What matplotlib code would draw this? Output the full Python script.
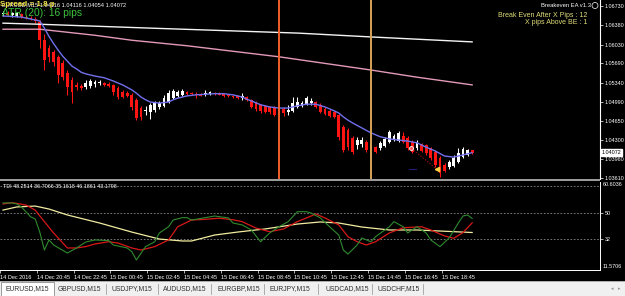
import numpy as np
import matplotlib
matplotlib.use('Agg')
import matplotlib.pyplot as plt
from matplotlib.patches import Rectangle, Ellipse

plt.rcParams['font.family'] = ['Liberation Sans', 'DejaVu Sans']

# EURUSD M15 candles, 14 Dec 18:45 .. 15 Dec 20:15
opens = [1.0659, 1.0660, 1.0657, 1.0655, 1.0659, 1.0653, 1.0651, 1.0650, 1.0644, 1.0611,
         1.0597, 1.0590, 1.0581, 1.0570, 1.0552, 1.0539, 1.0530, 1.0528, 1.0526, 1.0528,
         1.0532, 1.0533, 1.0533, 1.0532, 1.0530, 1.0524, 1.0517, 1.0515, 1.0512, 1.0503,
         1.0488, 1.0483, 1.0481, 1.0484, 1.0490, 1.0492, 1.0499, 1.0506, 1.0510, 1.0512,
         1.0517, 1.0515, 1.0514, 1.0514, 1.0514, 1.0514, 1.0515, 1.0515, 1.0514, 1.0512,
         1.0510, 1.0510, 1.0506, 1.0508, 1.0503, 1.0497, 1.0494, 1.0492, 1.0490, 1.0490,
         1.0483, 1.0486, 1.0481, 1.0483, 1.0490, 1.0492, 1.0495, 1.0497, 1.0499, 1.0494,
         1.0486, 1.0483, 1.0481, 1.0475, 1.0454, 1.0448, 1.0434, 1.0421, 1.0423, 1.0426,
         1.0421, 1.0417, 1.0416, 1.0419, 1.0426, 1.0430, 1.0428, 1.0437, 1.0434, 1.0426,
         1.0416, 1.0423, 1.0421, 1.0416, 1.0408, 1.0397, 1.0385, 1.0381, 1.0383, 1.0390,
         1.0399, 1.0403, 1.04116]
highs = [1.0664, 1.0664, 1.0662, 1.0662, 1.0660, 1.0657, 1.0655, 1.0653, 1.0648, 1.0622,
         1.0602, 1.0593, 1.0584, 1.0575, 1.0557, 1.0544, 1.0535, 1.0532, 1.0539, 1.0541,
         1.0539, 1.0539, 1.0535, 1.0535, 1.0532, 1.0528, 1.0521, 1.0519, 1.0515, 1.0506,
         1.0492, 1.0492, 1.0497, 1.0501, 1.0501, 1.0512, 1.0521, 1.0523, 1.0521, 1.0523,
         1.0519, 1.0517, 1.0517, 1.0515, 1.0521, 1.0519, 1.0517, 1.0517, 1.0515, 1.0514,
         1.0512, 1.0512, 1.0515, 1.0510, 1.0504, 1.0501, 1.0495, 1.0494, 1.0492, 1.0492,
         1.0492, 1.0490, 1.0494, 1.0508, 1.0508, 1.0501, 1.0510, 1.0506, 1.0501, 1.0497,
         1.0490, 1.0486, 1.0483, 1.0477, 1.0457, 1.0452, 1.0437, 1.0436, 1.0436, 1.0430,
         1.0425, 1.0419, 1.0428, 1.0436, 1.0448, 1.0441, 1.0446, 1.0445, 1.0437, 1.0430,
         1.0430, 1.0425, 1.0423, 1.0417, 1.0412, 1.0401, 1.0388, 1.0394, 1.0403, 1.0416,
         1.0417, 1.0414, 1.04116]
lows = [1.0655, 1.0655, 1.0653, 1.0653, 1.0651, 1.0650, 1.0648, 1.0642, 1.0597, 1.0557,
        1.0572, 1.0564, 1.0533, 1.0539, 1.0512, 1.0497, 1.0521, 1.0521, 1.0523, 1.0524,
        1.0526, 1.0530, 1.0528, 1.0526, 1.0512, 1.0504, 1.0506, 1.0508, 1.0484, 1.0466,
        1.0466, 1.0475, 1.0468, 1.0481, 1.0486, 1.0490, 1.0497, 1.0504, 1.0508, 1.0510,
        1.0512, 1.0512, 1.0506, 1.0510, 1.0510, 1.0512, 1.0512, 1.0512, 1.0508, 1.0508,
        1.0506, 1.0504, 1.0503, 1.0501, 1.0488, 1.0483, 1.0479, 1.0479, 1.0477, 1.0474,
        1.0477, 1.0474, 1.0475, 1.0481, 1.0488, 1.0490, 1.0494, 1.0494, 1.0488, 1.0479,
        1.0475, 1.0472, 1.0470, 1.0430, 1.0408, 1.0412, 1.0405, 1.0414, 1.0417, 1.0408,
        1.0399, 1.0407, 1.0412, 1.0417, 1.0425, 1.0428, 1.0426, 1.0425, 1.0412, 1.0407,
        1.0412, 1.0408, 1.0403, 1.0394, 1.0381, 1.0363, 1.0372, 1.0377, 1.0381, 1.0388,
        1.0397, 1.0401, 1.04054]
closes = [1.0660, 1.0657, 1.0660, 1.0660, 1.0653, 1.0651, 1.0650, 1.0646, 1.0611, 1.0575,
          1.0581, 1.0572, 1.0548, 1.0544, 1.0526, 1.0517, 1.0526, 1.0524, 1.0533, 1.0537,
          1.0535, 1.0535, 1.0530, 1.0528, 1.0517, 1.0508, 1.0508, 1.0510, 1.0490, 1.0470,
          1.0472, 1.0484, 1.0494, 1.0497, 1.0497, 1.0506, 1.0515, 1.0519, 1.0517, 1.0519,
          1.0514, 1.0514, 1.0512, 1.0510, 1.0515, 1.0517, 1.0514, 1.0512, 1.0510, 1.0510,
          1.0508, 1.0506, 1.0510, 1.0503, 1.0490, 1.0486, 1.0483, 1.0481, 1.0481, 1.0475,
          1.0484, 1.0479, 1.0484, 1.0497, 1.0499, 1.0497, 1.0506, 1.0501, 1.0490, 1.0481,
          1.0477, 1.0474, 1.0472, 1.0436, 1.0412, 1.0417, 1.0408, 1.0430, 1.0430, 1.0412,
          1.0403, 1.0408, 1.0425, 1.0432, 1.0445, 1.0437, 1.0443, 1.0426, 1.0416, 1.0408,
          1.0426, 1.0410, 1.0407, 1.0397, 1.0385, 1.0370, 1.0374, 1.0390, 1.0397, 1.0407,
          1.0414, 1.0412, 1.04072]

# moving averages (bar index, price)
blue_idx = [0, 4, 8, 9, 10, 11, 12, 13, 14, 15, 16, 17, 18, 20, 22, 24, 26, 28, 29, 30,
            31, 32, 34, 36, 37, 38, 40, 42, 46, 48, 50, 52, 53, 54, 56, 58, 60, 62, 64, 66,
            68, 70, 72, 73, 74, 75, 76, 78, 80, 82, 84, 86, 88, 90, 92, 94, 96, 98, 100, 102]
blue_val = [1.0655, 1.0653, 1.0646, 1.0633, 1.0618, 1.0605, 1.0593, 1.0582, 1.0573, 1.0564,
            1.0559, 1.0553, 1.0550, 1.0546, 1.0543, 1.0537, 1.0530, 1.0521, 1.0515, 1.0508,
            1.0503, 1.0499, 1.0497, 1.0499, 1.0503, 1.0506, 1.0510, 1.0512, 1.0514, 1.0514,
            1.0512, 1.0508, 1.0504, 1.0501, 1.0494, 1.0490, 1.0488, 1.0488, 1.0492, 1.0495,
            1.0495, 1.0490, 1.0483, 1.0479, 1.0472, 1.0466, 1.0461, 1.0452, 1.0443, 1.0436,
            1.0432, 1.0430, 1.0428, 1.0425, 1.0417, 1.0410, 1.0401, 1.0399, 1.0403, 1.0407]
white_idx = [0, 8, 32, 64, 80, 102]
white_val = [1.0642, 1.0640, 1.0633, 1.0624, 1.0617, 1.0608]
pink_idx = [0, 8, 20, 28, 40, 60, 80, 90, 102]
pink_val = [1.0631, 1.0631, 1.0620, 1.0611, 1.0601, 1.0581, 1.0557, 1.0544, 1.0530]

# TDI lines
green_idx = [0, 2, 3, 4, 6, 7, 8, 9, 10, 11, 14, 16, 18, 20, 23, 24, 27, 28, 29, 31,
             33, 34, 36, 37, 39, 40, 41, 44, 46, 49, 50, 52, 54, 56, 58, 60, 62, 64, 66, 67,
             69, 71, 73, 74, 75, 77, 78, 80, 81, 84, 85, 87, 88, 90, 92, 93, 95, 97, 99, 100,
             101, 102]
green_val = [56.6, 56.6, 55.9, 53.9, 47.3, 45.8, 37.0, 24.9, 31.7, 28.3, 22.9, 26.3, 30.3, 31.7,
             31.2, 28.3, 26.3, 23.8, 18.2, 27.2, 30.5, 36.4, 40.6, 45.1, 46.7, 46.7, 45.1, 46.7,
             47.8, 46.5, 43.1, 41.8, 38.4, 30.5, 36.4, 40.6, 44.0, 50.7, 50.7, 49.8, 46.5, 40.6,
             35.0, 24.9, 22.2, 28.3, 33.0, 30.5, 33.9, 40.6, 44.0, 40.6, 36.4, 40.6, 36.4, 31.7,
             27.2, 33.0, 43.1, 47.8, 48.5, 46.19]
red_idx = [0, 2, 5, 7, 9, 11, 14, 16, 18, 20, 23, 25, 28, 30, 33, 36, 38, 41, 44, 47,
           50, 52, 55, 58, 61, 64, 67, 68, 70, 73, 75, 77, 79, 81, 84, 87, 91, 93, 96, 98,
           100, 102]
red_val = [55.9, 56.8, 55.2, 51.8, 44.0, 36.4, 26.3, 26.3, 27.2, 29.0, 30.5, 29.6, 26.3, 24.9,
           27.2, 31.7, 40.6, 45.1, 45.6, 46.3, 45.3, 44.0, 39.7, 37.2, 39.1, 44.0, 47.8, 49.2,
           46.5, 41.8, 33.9, 30.5, 28.3, 30.5, 36.4, 39.9, 40.6, 38.4, 34.4, 32.8, 36.6, 43.18]
yellow_idx = [0, 3, 7, 10, 14, 21, 28, 34, 39, 41, 46, 51, 57, 64, 69, 73, 78, 84, 90, 95, 102]
yellow_val = [51.8, 53.9, 54.5, 52.5, 48.5, 43.1, 37.0, 32.3, 31.0, 31.0, 35.0, 37.0, 39.1,
              42.4, 43.8, 43.1, 40.4, 38.4, 38.4, 37.7, 36.7]
tdi_levels = [68, 50, 32]

price_ticks = [1.06730, 1.06380, 1.06030, 1.05690, 1.05340, 1.04990, 1.04650, 1.04300,
               1.03960, 1.03610]
time_labels = ['14 Dec 2016', '14 Dec 20:45', '14 Dec 22:45', '15 Dec 00:45', '15 Dec 02:45',
               '15 Dec 04:45', '15 Dec 06:45', '15 Dec 08:45', '15 Dec 10:45', '15 Dec 12:45',
               '15 Dec 14:45', '15 Dec 16:45', '15 Dec 18:45']
tabs = ['EURUSD,M15', 'GBPUSD,M15', 'USDJPY,M15', 'AUDUSD,M15', 'EURGBP,M15',
        'EURJPY,M15', 'USDCAD,M15', 'USDCHF,M15']
vlines_at = [60, 80]

W, H = 625, 296
fig = plt.figure(figsize=(W / 100, H / 100), dpi=100, facecolor='black')


def fx(x):
    return x / W


def fy(y):
    return 1 - y / H


XL = (-0.65, 129.8)

# ---- price panel
ax = fig.add_axes([0, fy(179), fx(600), 179 / H])
ax.set_facecolor('black')
o, h, l, c = map(np.array, (opens, highs, lows, closes))
idx = np.arange(len(c))
cols = np.where(c >= o, '#ffffff', '#ff1414')
ax.vlines(idx, l, h, colors=cols, lw=0.75)
body = np.maximum(np.abs(c - o), 0.00003)
ax.bar(idx, body, bottom=np.minimum(o, c), width=0.62, color=cols, lw=0)

ax.plot(white_idx, white_val, color='#f4f4f4', lw=1.0)
ax.plot(pink_idx, pink_val, color='#e39ab8', lw=1.0)
ax.plot(blue_idx, blue_val, color='#7070ec', lw=1.0)

ax.axvline(vlines_at[0], color='#f2602a', lw=1.4)
ax.axvline(vlines_at[1], color='#d6a458', lw=1.4)

# trade arrow
ax.plot([88.8, 94.3], [1.0415, 1.0377], color='#a01010', lw=0.7, ls=(0, (1.5, 1.5)))
ax.plot([88.8], [1.0415], marker='o', ms=2.8, mfc='#ff5050', mec='white', mew=0.6)
ax.plot([94.3], [1.0377], marker='<', ms=3, color='#ffd040')
ax.plot([88.3, 89.8], [1.0378, 1.0378], color='#20207a', lw=0.8)

ax.set_xlim(*XL)
ax.set_ylim(1.03593, 1.0684)
for s in ['top', 'left', 'bottom']:
    ax.spines[s].set_visible(False)
ax.spines['right'].set_color('white')
ax.spines['right'].set_linewidth(0.8)
ax.set_xticks([])
ax.yaxis.tick_right()
ax.set_yticks(price_ticks)
ax.set_yticklabels([f'{v:.5f}' for v in price_ticks])
ax.tick_params(axis='y', colors='white', labelsize=3.9, length=2, width=0.5, pad=1.5)
ax.text(1.0 + 2 / 600, closes[-1], f'{closes[-1]:.5f}', transform=ax.get_yaxis_transform(),
        fontsize=3.9, color='black', va='center', ha='left', clip_on=False,
        bbox=dict(facecolor='white', edgecolor='white', pad=0.5))

# separator
fig.patches.append(Rectangle((0, fy(181)), fx(600), 2 / H, transform=fig.transFigure,
                             facecolor='#9a9a9a', edgecolor='none'))

# ---- TDI panel
ax2 = fig.add_axes([0, fy(270), fx(600), (270 - 182) / H])
ax2.set_facecolor('black')
for lv in tdi_levels:
    ax2.axhline(lv, color='#8a8a8a', lw=0.6, ls=(0, (2, 2)))
ax2.plot(yellow_idx, yellow_val, color='#f2eca0', lw=0.9)
ax2.plot(red_idx, red_val, color='#d81818', lw=0.9)
ax2.plot(green_idx, green_val, color='#2f8a2f', lw=0.8)
ax2.set_xlim(*XL)
ax2.set_ylim(11.47, 70.69)
for s in ['top', 'left']:
    ax2.spines[s].set_visible(False)
for s in ['right', 'bottom']:
    ax2.spines[s].set_color('white')
    ax2.spines[s].set_linewidth(0.7)
ax2.yaxis.tick_right()
ax2.set_yticks([50, 32])
ax2.set_yticklabels(['50', '32'])
ax2.tick_params(axis='y', colors='white', labelsize=3.9, length=2, width=0.5, pad=1.5)
ax2.set_xticks([8 * k - 0.65 for k in range(len(time_labels))])
ax2.set_xticklabels(time_labels, ha='left')
ax2.tick_params(axis='x', colors='white', labelsize=4.0, length=2.5, width=0.5, pad=1.0)
fig.text(fx(603), fy(184), '60.6036', color='white', fontsize=3.9, va='center')
fig.text(fx(603), fy(267), '11.5706', color='white', fontsize=3.9, va='center')
fig.text(fx(3), fy(187), 'TDI 48.2514 36.7066 35.1618 46.1861 43.1798', color='white',
         fontsize=3.9, va='center')

# ---- header texts
fig.text(fx(2), fy(4.5), 'EURUSD,M15 1.04116 1.04116 1.04054 1.04072', color='white',
         fontsize=4.1, va='center')
fig.text(fx(0), fy(5), 'Spread = 1.8 p', color='#f0e040', fontsize=5.8, fontweight='bold',
         va='center')
fig.text(fx(2), fy(12.5), 'ATR (20): 16 pips', color='#3cc03c', fontsize=7.4, va='center')
fig.text(fx(591), fy(5.5), 'Breakeven EA v1.3', color='white', fontsize=4.2, va='center',
         ha='right')
fig.add_artist(Ellipse((fx(595), fy(5.5)), 6 / W, 6 / H, transform=fig.transFigure,
                       facecolor='none', edgecolor='white', lw=0.5))
fig.text(fx(587), fy(15.5), 'Break Even After X Pips : 12', color='#e0dc78', fontsize=5.0,
         va='center', ha='right')
fig.text(fx(587), fy(23), 'X pips Above BE : 1', color='#e0dc78', fontsize=5.0,
         va='center', ha='right')

# ---- symbol tabs
fig.patches.append(Rectangle((0, 0), 1, 15 / H, transform=fig.transFigure,
                             facecolor='#f0f0f0', edgecolor='none'))
fig.add_artist(plt.Line2D([0, 1], [fy(281), fy(281)], color='#a0a0a0', lw=0.6))
fig.patches.append(Rectangle((fx(0.5), 0), fx(53), 14.5 / H, transform=fig.transFigure,
                             facecolor='white', edgecolor='#8c8c8c', lw=0.6))
tab_x = [5, 58, 112, 163, 217, 270, 325, 377]
sep_x = [106, 158, 211, 264, 318, 372, 423]
for tx, name in zip(tab_x, tabs):
    fig.text(fx(tx), fy(288.5), name, color='#303030', fontsize=4.9, va='center')
for sx in sep_x:
    fig.add_artist(plt.Line2D([fx(sx), fx(sx)], [fy(284), fy(294)], color='#909090', lw=0.5))
fig.text(fx(611), fy(288.5), '\u25c2', color='#909090', fontsize=3.5, va='center',
         family='DejaVu Sans')
fig.text(fx(618), fy(288.5), '\u25b8', color='#909090', fontsize=3.5, va='center',
         family='DejaVu Sans')

fig.savefig('out.png', dpi=100, facecolor='black')
